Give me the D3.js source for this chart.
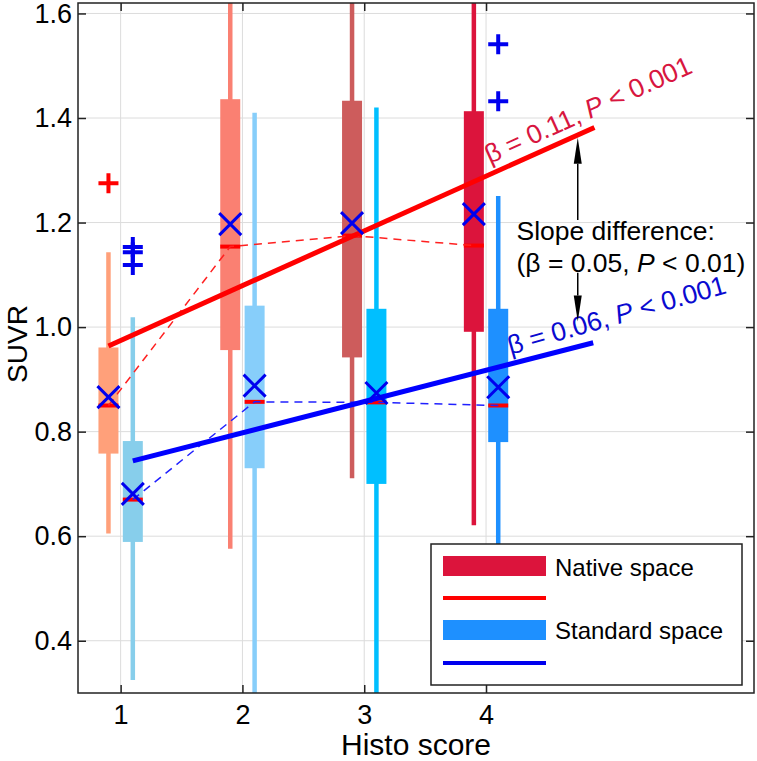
<!DOCTYPE html>
<html>
<head>
<meta charset="utf-8">
<script src="https://cdn.jsdelivr.net/npm/d3@7"></script>
<style>
  html, body { margin: 0; padding: 0; background: #fff; }
  svg { display: block; font-family: "Liberation Sans", Arial, Helvetica, sans-serif; }
</style>
</head>
<body>
<svg id="chart" width="757" height="761"></svg>
<script>
// ---------------- DATA ----------------
const scores = [1, 2, 3, 4];
const xTicks = [1, 2, 3, 4];
const yTicks = [0.4, 0.6, 0.8, 1.0, 1.2, 1.4, 1.6];
const yTickLabels = ["0.4", "0.6", "0.8", "1.0", "1.2", "1.4", "1.6"];

// Native space box statistics
const nativeLow    = [0.605, 0.576, 0.711, 0.621];
const nativeQ1     = [0.758, 0.956, 0.942, 0.991];
const nativeMedian = [0.850, 1.154, 1.175, 1.156];
const nativeQ3     = [0.961, 1.436, 1.433, 1.413];
const nativeHigh   = [1.143, 1.750, 1.750, 1.750];
const nativeMean   = [0.866, 1.197, 1.199, 1.216];
const nativeColors = ["#FFA07A", "#FA8072", "#CD5C5C", "#DC143C"];
const nativeOutliers = [[1, 1.275]];

// Standard space box statistics
const standardLow    = [0.325, 0.250, 0.250, 0.420];
const standardQ1     = [0.589, 0.730, 0.700, 0.780];
const standardMedian = [0.670, 0.857, 0.856, 0.850];
const standardQ3     = [0.782, 1.041, 1.035, 1.035];
const standardHigh   = [1.019, 1.410, 1.420, 1.251];
const standardMean   = [0.681, 0.888, 0.874, 0.885];
const standardColors = ["#87CEEB", "#87CEFA", "#00BFFF", "#1E90FF"];
const standardOutliers = [[1, 1.153], [1, 1.143], [1, 1.119], [4, 1.541], [4, 1.432]];

// Regression fits (endpoints in data units)
const nativeFitX = [0.90, 4.89];
const nativeFitY = [0.964, 1.382];
const standardFitX = [1.10, 4.88];
const standardFitY = [0.744, 0.970];

const nativeLabel = "β = 0.11, ";
const standardLabel = "β = 0.06, ";
const pLabel = "< 0.001";
const legendLabels = ["Native space", "Standard space"];

// ---------------- LAYOUT ----------------
const svg = d3.select("#chart");
const L = 78, R = 754, T = 3, B = 693;
const x = d3.scaleLinear().domain([0.65, 6.2]).range([L, R]);
const y = d3.scaleLinear().domain([0.3, 1.62]).range([B, T]);
const offset = 0.1;
const boxW = 20;

svg.append("defs").append("clipPath").attr("id", "plotClip")
  .append("rect").attr("x", L).attr("y", T).attr("width", R - L).attr("height", B - T);

// grid
const grid = svg.append("g");
grid.selectAll("line.gy").data(yTicks).join("line")
  .attr("x1", L).attr("x2", R).attr("y1", d => y(d)).attr("y2", d => y(d))
  .attr("stroke", "#dcdcdc").attr("stroke-width", 1);
grid.selectAll("line.gx").data(xTicks).join("line")
  .attr("y1", T).attr("y2", B).attr("x1", d => x(d)).attr("x2", d => x(d))
  .attr("stroke", "#dcdcdc").attr("stroke-width", 1);

const plot = svg.append("g").attr("clip-path", "url(#plotClip)");

function drawBoxes(sign, low, q1, med, q3, high, colors) {
  const g = plot.append("g");
  scores.forEach((s, i) => {
    const cx = x(s + sign * offset);
    g.append("line").attr("x1", cx).attr("x2", cx)
      .attr("y1", y(low[i])).attr("y2", y(high[i]))
      .attr("stroke", colors[i]).attr("stroke-width", 4.5);
    g.append("rect").attr("x", cx - boxW / 2).attr("width", boxW)
      .attr("y", y(q3[i])).attr("height", y(q1[i]) - y(q3[i]))
      .attr("fill", colors[i]);
  });
}
drawBoxes(-1, nativeLow, nativeQ1, nativeMedian, nativeQ3, nativeHigh, nativeColors);
drawBoxes(1, standardLow, standardQ1, standardMedian, standardQ3, standardHigh, standardColors);

// medians
function drawMedians(sign, med) {
  plot.append("g").selectAll("line").data(scores).join("line")
    .attr("x1", (s) => x(s + sign * offset) - boxW / 2)
    .attr("x2", (s) => x(s + sign * offset) + boxW / 2)
    .attr("y1", (s, i) => y(med[i])).attr("y2", (s, i) => y(med[i]))
    .attr("stroke", "#FF0000").attr("stroke-width", 4);
}
drawMedians(-1, nativeMedian);
drawMedians(1, standardMedian);

// dashed median connectors
const lineGen = d3.line();
plot.append("path")
  .attr("d", lineGen(scores.map((s, i) => [x(s - offset), y(nativeMedian[i])])))
  .attr("fill", "none").attr("stroke", "#FF2020").attr("stroke-width", 1.5)
  .attr("stroke-dasharray", "8,6");
plot.append("path")
  .attr("d", lineGen(scores.map((s, i) => [x(s + offset), y(standardMedian[i])])))
  .attr("fill", "none").attr("stroke", "#2020FF").attr("stroke-width", 1.5)
  .attr("stroke-dasharray", "8,6");

// regression lines
plot.append("path")
  .attr("d", lineGen(nativeFitX.map((v, i) => [x(v), y(nativeFitY[i])])))
  .attr("stroke", "#FF0000").attr("stroke-width", 5).attr("fill", "none");
plot.append("path")
  .attr("d", lineGen(standardFitX.map((v, i) => [x(v), y(standardFitY[i])])))
  .attr("stroke", "#0000FF").attr("stroke-width", 5).attr("fill", "none");

// mean markers (X)
function drawMeans(sign, mean) {
  const h = 11;
  plot.append("g").selectAll("path").data(scores).join("path")
    .attr("d", (s, i) => {
      const cx = x(s + sign * offset), cy = y(mean[i]);
      return `M${cx - h},${cy - h}L${cx + h},${cy + h}M${cx - h},${cy + h}L${cx + h},${cy - h}`;
    })
    .attr("stroke", "#0000EE").attr("stroke-width", 3).attr("fill", "none");
}
drawMeans(-1, nativeMean);
drawMeans(1, standardMean);

// outliers (+)
function drawOutliers(sign, pts, color) {
  const h = 10;
  plot.append("g").selectAll("path").data(pts).join("path")
    .attr("d", d => {
      const cx = x(d[0] + sign * offset), cy = y(d[1]);
      return `M${cx - h},${cy}L${cx + h},${cy}M${cx},${cy - h}L${cx},${cy + h}`;
    })
    .attr("stroke", color).attr("stroke-width", 4).attr("fill", "none");
}
drawOutliers(-1, nativeOutliers, "#FF0000");
drawOutliers(1, standardOutliers, "#0000EE");

// slope labels
function slopeLabel(px, py, fx, fy, txt, color, extra) {
  const ang = Math.atan2(y(fy[1]) - y(fy[0]), x(fx[1]) - x(fx[0])) * 180 / Math.PI + extra;
  const t = svg.append("text")
    .attr("transform", `translate(${x(px)},${y(py)}) rotate(${ang})`)
    .attr("font-size", 26.5).attr("fill", color);
  t.append("tspan").text(txt);
  t.append("tspan").attr("font-style", "italic").text("P");
  t.append("tspan").text(" " + pLabel);
}
slopeLabel(4.03, 1.312, nativeFitX, nativeFitY, nativeLabel, "#D8163F", 0);
slopeLabel(4.20, 0.947, standardFitX, standardFitY, standardLabel, "#0A0AD0", -1.5);

// slope difference annotation
const ann = svg.append("g");
ann.append("text").attr("x", x(4.25)).attr("y", y(1.167))
  .attr("font-size", 26.5).attr("fill", "#000").text("Slope difference:");
const t2 = ann.append("text").attr("x", x(4.25)).attr("y", y(1.105))
  .attr("font-size", 26.5).attr("fill", "#000");
t2.append("tspan").text("(β = 0.05, ");
t2.append("tspan").attr("font-style", "italic").text("P");
t2.append("tspan").text(" < 0.01)");

function arrow(xv, fromV, toV) {
  const ax = x(xv), y0 = y(fromV), y1 = y(toV);
  const dir = Math.sign(y1 - y0);
  const len = 26, hw = 4;
  ann.append("line").attr("x1", ax).attr("x2", ax).attr("y1", y0).attr("y2", y1 - dir * len)
    .attr("stroke", "#000").attr("stroke-width", 1.5);
  ann.append("path")
    .attr("d", `M${ax},${y1}L${ax - hw},${y1 - dir * len}L${ax + hw},${y1 - dir * len}Z`)
    .attr("fill", "#000");
}
arrow(4.753, 1.205, 1.362);
arrow(4.753, 1.104, 1.0105);

// axes (inside ticks)
const tickFont = 27;
const axL = svg.append("g").attr("transform", `translate(${L},0)`)
  .call(d3.axisLeft(y).tickValues(yTicks).tickFormat((d, i) => yTickLabels[i]).tickSize(-8).tickPadding(6));
const axB = svg.append("g").attr("transform", `translate(0,${B})`)
  .call(d3.axisBottom(x).tickValues(xTicks).tickFormat(d3.format("d")).tickSize(-8).tickPadding(12));
const axT = svg.append("g").attr("transform", `translate(0,${T})`)
  .call(d3.axisTop(x).tickValues(xTicks).tickFormat("").tickSize(-8));
const axR = svg.append("g").attr("transform", `translate(${R},0)`)
  .call(d3.axisRight(y).tickValues(yTicks).tickFormat("").tickSize(-8));
[axL, axB, axT, axR].forEach(a => {
  a.select(".domain").remove();
  a.selectAll(".tick line").attr("stroke", "#222").attr("stroke-width", 1.5);
  a.selectAll(".tick text").attr("font-size", tickFont).attr("fill", "#000")
    .attr("font-family", "Liberation Sans, Arial, sans-serif");
});

// frame
svg.append("rect").attr("x", L).attr("y", T).attr("width", R - L).attr("height", B - T)
  .attr("fill", "none").attr("stroke", "#222").attr("stroke-width", 1.5);

// axis titles
svg.append("text").attr("x", (L + R) / 2).attr("y", 755).attr("text-anchor", "middle")
  .attr("font-size", 30).attr("fill", "#000").text("Histo score");
svg.append("text").attr("transform", `translate(27,${(T + B) / 2 - 4}) rotate(-90)`)
  .attr("text-anchor", "middle").attr("font-size", 28).attr("fill", "#000").text("SUVR");

// legend
const lg = svg.append("g");
lg.append("rect").attr("x", 431).attr("y", 544).attr("width", 311).attr("height", 141)
  .attr("fill", "#fff").attr("stroke", "#222").attr("stroke-width", 1.5);
lg.append("rect").attr("x", 443).attr("y", 556).attr("width", 103).attr("height", 20).attr("fill", nativeColors[3]);
lg.append("line").attr("x1", 443).attr("x2", 546).attr("y1", 598).attr("y2", 598)
  .attr("stroke", "#FF0000").attr("stroke-width", 4);
lg.append("rect").attr("x", 443).attr("y", 620).attr("width", 103).attr("height", 20).attr("fill", standardColors[3]);
lg.append("line").attr("x1", 443).attr("x2", 546).attr("y1", 663).attr("y2", 663)
  .attr("stroke", "#0000EE").attr("stroke-width", 4);
lg.append("text").attr("x", 555).attr("y", 576).attr("font-size", 24).attr("fill", "#000").text(legendLabels[0]);
lg.append("text").attr("x", 555).attr("y", 639).attr("font-size", 24).attr("fill", "#000").text(legendLabels[1]);
</script>
</body>
</html>
